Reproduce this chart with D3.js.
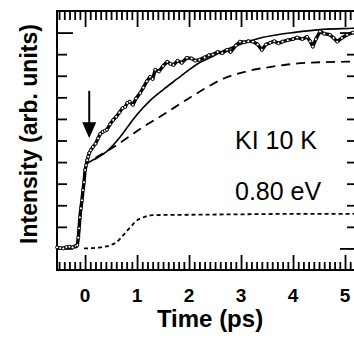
<!DOCTYPE html>
<html>
<head>
<meta charset="utf-8">
<script src="https://cdn.jsdelivr.net/npm/d3@7"></script>
<style>
  body { margin: 0; background: #fff; }
  svg { display: block; font-family: 'Liberation Sans', Arial, sans-serif; }
  .axis path.domain { display: none; }
  .axis line { stroke: #000; stroke-width: 1.8px; }
</style>
</head>
<body>
<script>
var dataTime = [-0.54, -0.48, -0.42, -0.36, -0.30, -0.24, -0.18, -0.15, -0.13, -0.115, -0.10, -0.08, -0.06, -0.04, -0.02,
  0.0, 0.02, 0.04, 0.06, 0.08, 0.11, 0.15, 0.2, 0.25, 0.29, 0.34, 0.38, 0.42, 0.48, 0.54, 0.6, 0.66, 0.72, 0.77, 0.81,
  0.86, 0.92, 0.98, 1.06, 1.12, 1.19, 1.25, 1.3, 1.35, 1.42, 1.5, 1.58, 1.64, 1.7, 1.78, 1.86, 1.96, 2.05, 2.12, 2.2,
  2.3, 2.38, 2.46, 2.55, 2.64, 2.73, 2.8, 2.9, 2.98, 3.06, 3.14, 3.23, 3.32, 3.4, 3.48, 3.56, 3.64, 3.72, 3.8, 3.9,
  4.0, 4.08, 4.18, 4.27, 4.33, 4.38, 4.44, 4.52, 4.6, 4.71, 4.78, 4.85, 4.94, 5.04, 5.15, 5.25];
var dataValue = [0.05, 0.02, 0.0, 0.06, 0.08, 0.05, 0.12, 0.15, 0.5, 0.93, 1.44, 1.86, 2.23, 2.7, 3.07,
  3.63, 3.85, 4.09, 4.25, 4.42, 4.55, 4.7, 4.85, 5.1, 5.3, 5.4, 5.45, 5.5, 5.75, 5.95, 6.1, 6.3, 6.5, 6.55, 6.74,
  6.8, 6.65, 6.95, 7.2, 7.45, 7.75, 7.95, 7.85, 8.28, 8.2, 8.45, 8.65, 8.55, 8.5, 8.7, 8.6, 8.83, 8.8, 8.7, 8.74,
  8.85, 8.95, 8.98, 9.1, 9.05, 9.2, 9.1, 9.4, 9.58, 9.55, 9.6, 9.58, 9.45, 9.2, 9.45, 9.53, 9.6, 9.5, 9.58, 9.65,
  9.7, 9.77, 9.7, 9.8, 9.6, 9.35, 9.7, 10.05, 9.95, 9.9, 9.75, 9.58, 9.75, 9.9, 10.0, 9.95];

// solid curve
var fitTime = [-0.54, -0.15, -0.12, -0.08, -0.04, 0.0, 0.05, 0.12, 0.23, 0.42, 0.67, 0.81, 1.0, 1.25, 1.5, 1.77,
  1.96, 2.2, 2.46, 2.7, 2.98, 3.37, 3.7, 4.0, 4.58, 5.15, 5.25];
var fitValue = [0.0, 0.05, 0.6, 1.7, 2.8, 3.6, 3.95, 4.05, 4.19, 4.5, 5.15, 5.6, 6.2, 6.85, 7.35, 7.85,
  8.2, 8.6, 8.9, 9.2, 9.45, 9.75, 9.9, 10.0, 10.15, 10.2, 10.21];

// long dashes
var dashTime = [0.2, 0.45, 0.8, 1.1, 1.44, 1.7, 1.96, 2.3, 2.6, 3.1, 3.6, 4.27, 5.04, 5.25];
var dashValue = [4.2, 4.55, 5.1, 5.6, 6.1, 6.5, 6.9, 7.4, 7.8, 8.2, 8.42, 8.6, 8.65, 8.66];

// short dashes
var dotTime = [-0.02, 0.3, 0.48, 0.6, 0.73, 0.87, 1.0, 1.12, 1.25, 1.5, 2.0, 3.0, 4.0, 5.25];
var dotValue = [0.0, 0.05, 0.14, 0.28, 0.6, 0.98, 1.3, 1.44, 1.53, 1.55, 1.56, 1.58, 1.6, 1.6];

var xTicks = [0, 1, 2, 3, 4, 5];
var xMinorTicks = [-0.5, -0.4, -0.3, -0.2, -0.1, 0.1, 0.2, 0.3, 0.4, 0.5, 0.6, 0.7, 0.8, 0.9,
  1.1, 1.2, 1.3, 1.4, 1.5, 1.6, 1.7, 1.8, 1.9, 2.1, 2.2, 2.3, 2.4, 2.5, 2.6, 2.7, 2.8, 2.9,
  3.1, 3.2, 3.3, 3.4, 3.5, 3.6, 3.7, 3.8, 3.9, 4.1, 4.2, 4.3, 4.4, 4.5, 4.6, 4.7, 4.8, 4.9,
  5.1, 5.2];
var yTicks = [1, 2, 3, 4, 5, 6, 7, 8, 9];
var yLongTicks = [0, 10];
var arrowTime = 0.08, arrowFrom = 7.3, arrowTo = 5.1;
var notes = ['KI 10 K', '0.80 eV'];
var noteValue = [4.6, 2.25];

var width = 354, height = 338;
var frame = { left: 57, top: 11, right: 358, bottom: 270 };

var x = d3.scaleLinear().domain([-0.54, 5.25]).range([frame.left, frame.right]);
var y = d3.scaleLinear().domain([-1, 11]).range([frame.bottom, frame.top]);

var svg = d3.select('body').append('svg')
  .attr('width', width)
  .attr('height', height);

function pairs(ts, vs) {
  return ts.map(function(t, i) { return [t, vs[i]]; });
}

var line = d3.line()
  .x(function(d) { return x(d[0]); })
  .y(function(d) { return y(d[1]); });

var smooth = d3.line()
  .curve(d3.curveMonotoneX)
  .x(function(d) { return x(d[0]); })
  .y(function(d) { return y(d[1]); });

// inward ticks on all four sides
function addAxis(axis, tx, ty) {
  svg.append('g')
    .attr('class', 'axis')
    .attr('transform', 'translate(' + tx + ',' + ty + ')')
    .call(axis.tickSizeOuter(0).tickFormat(''));
}

addAxis(d3.axisTop(x).tickValues(xMinorTicks).tickSizeInner(-9), 0, frame.top);
addAxis(d3.axisTop(x).tickValues(xTicks).tickSizeInner(-16), 0, frame.top);
addAxis(d3.axisBottom(x).tickValues(xMinorTicks).tickSizeInner(-8), 0, frame.bottom);
addAxis(d3.axisBottom(x).tickValues(xTicks).tickSizeInner(-15), 0, frame.bottom);
addAxis(d3.axisLeft(y).tickValues(yTicks).tickSizeInner(-10), frame.left, 0);
addAxis(d3.axisLeft(y).tickValues(yLongTicks).tickSizeInner(-16), frame.left, 0);
addAxis(d3.axisRight(y).tickValues(yTicks).tickSizeInner(-11), frame.right, 0);
addAxis(d3.axisRight(y).tickValues(yLongTicks).tickSizeInner(-18), frame.right, 0);

svg.append('rect')
  .attr('x', frame.left)
  .attr('y', frame.top)
  .attr('width', frame.right - frame.left)
  .attr('height', frame.bottom - frame.top)
  .attr('fill', 'none')
  .attr('stroke', '#000')
  .attr('stroke-width', 2);

// x tick labels
svg.selectAll('text.xlabel')
  .data(xTicks)
  .enter().append('text')
  .attr('class', 'xlabel')
  .attr('x', function(d) { return x(d); })
  .attr('y', 302)
  .attr('text-anchor', 'middle')
  .attr('font-size', 19)
  .attr('font-weight', 'bold')
  .text(function(d) { return d; });

svg.append('text')
  .attr('x', 210)
  .attr('y', 327)
  .attr('text-anchor', 'middle')
  .attr('font-size', 24)
  .attr('font-weight', 'bold')
  .text('Time (ps)');

svg.append('text')
  .attr('transform', 'translate(37,134) rotate(-90)')
  .attr('text-anchor', 'middle')
  .attr('font-size', 23)
  .attr('font-weight', 'bold')
  .text('Intensity (arb. units)');

var plot = svg.append('g');

// curves
plot.append('path')
  .attr('d', smooth(pairs(dotTime, dotValue)))
  .attr('fill', 'none')
  .attr('stroke', '#000')
  .attr('stroke-width', 1.8)
  .attr('stroke-dasharray', '4,3');

plot.append('path')
  .attr('d', smooth(pairs(dashTime, dashValue)))
  .attr('fill', 'none')
  .attr('stroke', '#000')
  .attr('stroke-width', 1.8)
  .attr('stroke-dasharray', '9,6');

plot.append('path')
  .attr('d', smooth(pairs(fitTime, fitValue)))
  .attr('fill', 'none')
  .attr('stroke', '#000')
  .attr('stroke-width', 1.6);

var measured = pairs(dataTime, dataValue);

plot.append('path')
  .attr('d', line(measured))
  .attr('fill', 'none')
  .attr('stroke', '#000')
  .attr('stroke-width', 3.4)
  .attr('stroke-linejoin', 'round');

plot.selectAll('circle.pt')
  .data(measured)
  .enter().append('circle')
  .attr('class', 'pt')
  .attr('cx', function(d) { return x(d[0]); })
  .attr('cy', function(d) { return y(d[1]); })
  .attr('r', 1.5)
  .attr('fill', '#fff')
  .attr('stroke', '#000')
  .attr('stroke-width', 0.9);

// arrow marking time zero
plot.append('line')
  .attr('x1', x(arrowTime))
  .attr('x2', x(arrowTime))
  .attr('y1', y(arrowFrom))
  .attr('y2', y(arrowTo) - 12)
  .attr('stroke', '#000')
  .attr('stroke-width', 2);

plot.append('path')
  .attr('d', 'M' + (x(arrowTime) - 7) + ',' + (y(arrowTo) - 16) +
    'L' + (x(arrowTime) + 7) + ',' + (y(arrowTo) - 16) +
    'L' + x(arrowTime) + ',' + y(arrowTo) + 'Z')
  .attr('fill', '#000');

svg.selectAll('text.note')
  .data(notes)
  .enter().append('text')
  .attr('class', 'note')
  .attr('x', 235)
  .attr('y', function(d, i) { return y(noteValue[i]); })
  .attr('font-size', 25)
  .text(function(d) { return d; });
</script>
</body>
</html>
